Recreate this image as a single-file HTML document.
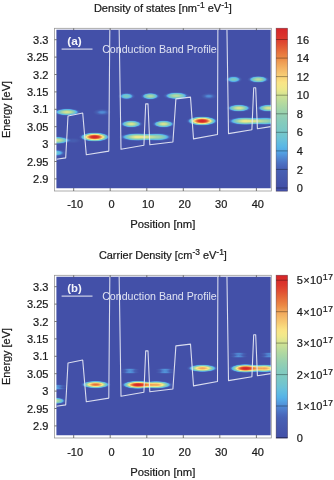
<!DOCTYPE html>
<html><head><meta charset="utf-8"><title>Density of states and carrier density</title>
<style>html,body{margin:0;padding:0;background:#fff;}svg{display:block;}</style></head>
<body>
<svg width="334" height="480" viewBox="0 0 334 480">
<rect width="334" height="480" fill="#ffffff"/>
<defs>
<radialGradient id="bp"><stop offset="0.000" stop-color="#fff" stop-opacity="1.000"/><stop offset="0.050" stop-color="#fff" stop-opacity="0.992"/><stop offset="0.100" stop-color="#fff" stop-opacity="0.983"/><stop offset="0.150" stop-color="#fff" stop-opacity="0.975"/><stop offset="0.200" stop-color="#fff" stop-opacity="0.948"/><stop offset="0.250" stop-color="#fff" stop-opacity="0.921"/><stop offset="0.300" stop-color="#fff" stop-opacity="0.891"/><stop offset="0.350" stop-color="#fff" stop-opacity="0.845"/><stop offset="0.400" stop-color="#fff" stop-opacity="0.798"/><stop offset="0.450" stop-color="#fff" stop-opacity="0.743"/><stop offset="0.500" stop-color="#fff" stop-opacity="0.680"/><stop offset="0.550" stop-color="#fff" stop-opacity="0.615"/><stop offset="0.600" stop-color="#fff" stop-opacity="0.537"/><stop offset="0.650" stop-color="#fff" stop-opacity="0.460"/><stop offset="0.700" stop-color="#fff" stop-opacity="0.380"/><stop offset="0.750" stop-color="#fff" stop-opacity="0.300"/><stop offset="0.800" stop-color="#fff" stop-opacity="0.231"/><stop offset="0.850" stop-color="#fff" stop-opacity="0.164"/><stop offset="0.900" stop-color="#fff" stop-opacity="0.100"/><stop offset="0.950" stop-color="#fff" stop-opacity="0.050"/><stop offset="1.000" stop-color="#fff" stop-opacity="0.000"/></radialGradient>
<filter id="cm" filterUnits="userSpaceOnUse" x="0" y="0" width="334" height="480" color-interpolation-filters="sRGB"><feComponentTransfer><feFuncR type="table" tableValues="0.263 0.267 0.267 0.267 0.271 0.275 0.275 0.275 0.278 0.278 0.278 0.282 0.282 0.286 0.290 0.294 0.298 0.306 0.310 0.314 0.322 0.325 0.329 0.333 0.333 0.337 0.353 0.365 0.380 0.396 0.408 0.424 0.435 0.447 0.459 0.467 0.475 0.486 0.494 0.502 0.510 0.518 0.529 0.545 0.557 0.573 0.584 0.600 0.620 0.635 0.655 0.671 0.690 0.710 0.729 0.753 0.773 0.792 0.816 0.847 0.878 0.914 0.929 0.945 0.957 0.973 0.980 0.976 0.976 0.973 0.973 0.969 0.965 0.961 0.957 0.953 0.949 0.945 0.941 0.937 0.933 0.925 0.922 0.914 0.910 0.906 0.898 0.894 0.890 0.886 0.878 0.875 0.871 0.867 0.863 0.859 0.855 0.851 0.847 0.843 0.839"/><feFuncG type="table" tableValues="0.314 0.318 0.325 0.329 0.333 0.341 0.345 0.353 0.357 0.365 0.369 0.376 0.380 0.392 0.412 0.431 0.459 0.482 0.510 0.537 0.565 0.596 0.627 0.655 0.678 0.706 0.718 0.725 0.737 0.745 0.753 0.761 0.769 0.773 0.776 0.780 0.784 0.784 0.788 0.792 0.792 0.796 0.800 0.804 0.808 0.812 0.816 0.820 0.824 0.831 0.835 0.843 0.847 0.855 0.859 0.867 0.871 0.878 0.886 0.894 0.902 0.906 0.910 0.906 0.906 0.902 0.894 0.875 0.855 0.835 0.812 0.792 0.769 0.749 0.725 0.702 0.678 0.659 0.635 0.612 0.588 0.549 0.522 0.498 0.471 0.443 0.420 0.392 0.365 0.337 0.310 0.282 0.255 0.227 0.216 0.204 0.192 0.176 0.165 0.153 0.141"/><feFuncB type="table" tableValues="0.659 0.663 0.663 0.667 0.671 0.671 0.675 0.682 0.686 0.694 0.698 0.706 0.710 0.722 0.741 0.757 0.773 0.792 0.808 0.827 0.847 0.867 0.886 0.894 0.902 0.910 0.898 0.890 0.878 0.867 0.851 0.839 0.824 0.812 0.800 0.788 0.776 0.769 0.761 0.753 0.745 0.741 0.729 0.722 0.714 0.702 0.694 0.682 0.675 0.663 0.655 0.643 0.635 0.627 0.616 0.604 0.596 0.588 0.576 0.569 0.561 0.553 0.545 0.541 0.537 0.533 0.525 0.510 0.494 0.478 0.463 0.451 0.439 0.424 0.412 0.392 0.376 0.361 0.341 0.322 0.306 0.275 0.267 0.255 0.247 0.235 0.227 0.216 0.208 0.204 0.196 0.188 0.184 0.176 0.173 0.173 0.169 0.165 0.161 0.161 0.157"/></feComponentTransfer></filter>
<linearGradient id="cba" x1="0" y1="0" x2="0" y2="1"><stop offset="0.000" stop-color="#d62428"/><stop offset="0.021" stop-color="#d82b2a"/><stop offset="0.042" stop-color="#da312b"/><stop offset="0.062" stop-color="#dc382d"/><stop offset="0.083" stop-color="#df4530"/><stop offset="0.104" stop-color="#e15333"/><stop offset="0.125" stop-color="#e46237"/><stop offset="0.146" stop-color="#e7713c"/><stop offset="0.167" stop-color="#e97f41"/><stop offset="0.188" stop-color="#ec8d47"/><stop offset="0.208" stop-color="#ef9d54"/><stop offset="0.229" stop-color="#f1aa5d"/><stop offset="0.250" stop-color="#f4b667"/><stop offset="0.271" stop-color="#f5c26e"/><stop offset="0.292" stop-color="#f7ce76"/><stop offset="0.312" stop-color="#f9d97d"/><stop offset="0.333" stop-color="#fae486"/><stop offset="0.354" stop-color="#f4e789"/><stop offset="0.375" stop-color="#ede88b"/><stop offset="0.396" stop-color="#dde590"/><stop offset="0.417" stop-color="#cce194"/><stop offset="0.438" stop-color="#c1dd9a"/><stop offset="0.458" stop-color="#b6da9f"/><stop offset="0.479" stop-color="#acd7a4"/><stop offset="0.500" stop-color="#a2d4a9"/><stop offset="0.521" stop-color="#99d1af"/><stop offset="0.542" stop-color="#91ceb4"/><stop offset="0.562" stop-color="#8accb9"/><stop offset="0.583" stop-color="#83cbbd"/><stop offset="0.604" stop-color="#7fc9c1"/><stop offset="0.625" stop-color="#7ac8c5"/><stop offset="0.646" stop-color="#75c6cb"/><stop offset="0.667" stop-color="#6fc4d2"/><stop offset="0.688" stop-color="#68c0da"/><stop offset="0.708" stop-color="#60bbe1"/><stop offset="0.729" stop-color="#58b6e6"/><stop offset="0.750" stop-color="#55aae5"/><stop offset="0.771" stop-color="#539bdf"/><stop offset="0.792" stop-color="#518bd4"/><stop offset="0.812" stop-color="#4e7cca"/><stop offset="0.833" stop-color="#4b6ec1"/><stop offset="0.854" stop-color="#4864b8"/><stop offset="0.875" stop-color="#475fb3"/><stop offset="0.896" stop-color="#475cb0"/><stop offset="0.917" stop-color="#4659ad"/><stop offset="0.938" stop-color="#4556ab"/><stop offset="0.958" stop-color="#4453a9"/><stop offset="0.979" stop-color="#4350a8"/><stop offset="1.000" stop-color="#4350a8"/></linearGradient>
<linearGradient id="cbb" x1="0" y1="0" x2="0" y2="1"><stop offset="0.000" stop-color="#d62428"/><stop offset="0.021" stop-color="#d82b29"/><stop offset="0.042" stop-color="#da312b"/><stop offset="0.062" stop-color="#dc382c"/><stop offset="0.083" stop-color="#df442f"/><stop offset="0.104" stop-color="#e15233"/><stop offset="0.125" stop-color="#e36136"/><stop offset="0.146" stop-color="#e66f3b"/><stop offset="0.167" stop-color="#e97d40"/><stop offset="0.188" stop-color="#ec8b46"/><stop offset="0.208" stop-color="#ef9b52"/><stop offset="0.229" stop-color="#f1a85c"/><stop offset="0.250" stop-color="#f3b465"/><stop offset="0.271" stop-color="#f5c06d"/><stop offset="0.292" stop-color="#f7cb74"/><stop offset="0.312" stop-color="#f8d77b"/><stop offset="0.333" stop-color="#fae284"/><stop offset="0.354" stop-color="#f6e788"/><stop offset="0.375" stop-color="#efe88b"/><stop offset="0.396" stop-color="#e2e68e"/><stop offset="0.417" stop-color="#d1e293"/><stop offset="0.438" stop-color="#c5df98"/><stop offset="0.458" stop-color="#badb9d"/><stop offset="0.479" stop-color="#afd8a2"/><stop offset="0.500" stop-color="#a6d5a7"/><stop offset="0.521" stop-color="#9cd2ad"/><stop offset="0.542" stop-color="#94cfb2"/><stop offset="0.562" stop-color="#8dcdb7"/><stop offset="0.583" stop-color="#85cbbc"/><stop offset="0.604" stop-color="#81cac0"/><stop offset="0.625" stop-color="#7cc9c3"/><stop offset="0.646" stop-color="#77c7c8"/><stop offset="0.667" stop-color="#72c5ce"/><stop offset="0.688" stop-color="#6cc2d6"/><stop offset="0.708" stop-color="#64bede"/><stop offset="0.729" stop-color="#5db9e3"/><stop offset="0.750" stop-color="#56b2e7"/><stop offset="0.771" stop-color="#54a4e3"/><stop offset="0.792" stop-color="#5294da"/><stop offset="0.812" stop-color="#4f84d0"/><stop offset="0.833" stop-color="#4d77c7"/><stop offset="0.854" stop-color="#4a6abe"/><stop offset="0.875" stop-color="#4861b5"/><stop offset="0.896" stop-color="#475eb2"/><stop offset="0.917" stop-color="#475baf"/><stop offset="0.938" stop-color="#4658ac"/><stop offset="0.958" stop-color="#4555ab"/><stop offset="0.979" stop-color="#4452a9"/><stop offset="1.000" stop-color="#4350a8"/></linearGradient>
</defs>
<g transform="translate(0,0)">
<rect x="54.6" y="28.3" width="216.7" height="162.7" fill="#fff" stroke="#929292" stroke-width="0.75"/>
<clipPath id="clipa"><rect x="56.4" y="29.7" width="214.3" height="158.5"/></clipPath>
<g clip-path="url(#clipa)">
<g filter="url(#cm)">
<rect x="54.4" y="27.7" width="218.3" height="162.5" fill="#000"/>
<ellipse cx="67.0" cy="112.1" rx="14.2" ry="4.0" fill="url(#bp)" opacity="0.60"/>
<ellipse cx="102.1" cy="112.3" rx="9.5" ry="3.6" fill="url(#bp)" opacity="0.20"/>
<ellipse cx="56.5" cy="140.3" rx="15.0" ry="4.3" fill="url(#bp)" opacity="0.58"/>
<ellipse cx="73.0" cy="140.6" rx="9.0" ry="3.0" fill="url(#bp)" opacity="0.10"/>
<ellipse cx="56.0" cy="152.9" rx="10.5" ry="4.0" fill="url(#bp)" opacity="0.33"/>
<ellipse cx="94.7" cy="137.0" rx="16.0" ry="5.0" fill="url(#bp)" opacity="1.00"/>
<ellipse cx="126.5" cy="96.2" rx="9.0" ry="3.9" fill="url(#bp)" opacity="0.38"/>
<ellipse cx="150.3" cy="96.2" rx="10.0" ry="3.9" fill="url(#bp)" opacity="0.52"/>
<ellipse cx="131.3" cy="124.0" rx="11.8" ry="4.1" fill="url(#bp)" opacity="0.60"/>
<ellipse cx="163.6" cy="124.0" rx="11.8" ry="4.1" fill="url(#bp)" opacity="0.60"/>
<ellipse cx="137.6" cy="137.0" rx="19.0" ry="4.4" fill="url(#bp)" opacity="0.63"/>
<ellipse cx="156.5" cy="137.0" rx="17.0" ry="4.4" fill="url(#bp)" opacity="0.50"/>
<ellipse cx="176.3" cy="95.8" rx="13.5" ry="4.1" fill="url(#bp)" opacity="0.54"/>
<ellipse cx="208.8" cy="96.2" rx="8.5" ry="3.4" fill="url(#bp)" opacity="0.20"/>
<ellipse cx="202.1" cy="121.0" rx="16.0" ry="5.0" fill="url(#bp)" opacity="1.00"/>
<ellipse cx="233.6" cy="79.4" rx="9.0" ry="3.9" fill="url(#bp)" opacity="0.38"/>
<ellipse cx="258.3" cy="79.4" rx="11.2" ry="3.9" fill="url(#bp)" opacity="0.54"/>
<ellipse cx="238.9" cy="108.1" rx="13.0" ry="4.1" fill="url(#bp)" opacity="0.60"/>
<ellipse cx="268.6" cy="108.1" rx="12.4" ry="4.1" fill="url(#bp)" opacity="0.60"/>
<ellipse cx="245.5" cy="121.1" rx="19.0" ry="4.4" fill="url(#bp)" opacity="0.63"/>
<ellipse cx="264.5" cy="121.1" rx="17.0" ry="4.4" fill="url(#bp)" opacity="0.50"/>
</g>
<path d="M56.4 159.2 L65.7 157.9 L68.0 116.0 L82.7 113.0 L86.3 154.7 L108.8 151.1 L109.9 20.0 M119.0 20.0 L121.0 149.2 L143.9 145.3 L145.7 103.9 L148.0 103.9 L149.8 144.8 L172.9 142.0 L175.9 98.9 L190.5 97.1 L193.5 138.9 L217.5 134.5 L217.9 20.0 M226.8 20.0 L228.5 133.6 L251.9 129.7 L253.7 87.8 L255.7 87.8 L257.4 128.8 L270.7 126.6 " fill="none" stroke="#e6e8f4" stroke-width="1.1" stroke-linejoin="round" opacity="0.92"/>
<line x1="61.6" y1="49.1" x2="92.5" y2="49.1" stroke="#c9cde6" stroke-width="1.35"/>
<text x="74.5" y="44.8" text-anchor="middle" font-family="Liberation Sans, sans-serif" font-size="11" font-weight="bold" fill="#f4f5fb" textLength="14.5" lengthAdjust="spacingAndGlyphs">(a)</text>
<text x="102.2" y="53.2" font-family="Liberation Sans, sans-serif" font-size="11.5" fill="#e0e3f2" textLength="114.6" lengthAdjust="spacingAndGlyphs">Conduction Band Profile</text>
</g>
<path d="M73.7 191.0V188.0M73.7 28.3V30.3M110.2 191.0V188.0M110.2 28.3V30.3M146.8 191.0V188.0M146.8 28.3V30.3M183.3 191.0V188.0M183.3 28.3V30.3M219.8 191.0V188.0M219.8 28.3V30.3M256.4 191.0V188.0M256.4 28.3V30.3M54.6 39.7H56.8M54.6 57.1H56.8M54.6 74.5H56.8M54.6 91.9H56.8M54.6 109.3H56.8M54.6 126.7H56.8M54.6 144.1H56.8M54.6 161.5H56.8M54.6 178.9H56.8" stroke="#555" stroke-width="0.8" fill="none"/>
<text x="75.1" y="208.3" text-anchor="middle" font-family="Liberation Sans, sans-serif" font-size="11" fill="#1a1a1a" stroke="#1a1a1a" stroke-width="0.22">-10</text>
<text x="111.6" y="208.3" text-anchor="middle" font-family="Liberation Sans, sans-serif" font-size="11" fill="#1a1a1a" stroke="#1a1a1a" stroke-width="0.22">0</text>
<text x="148.2" y="208.3" text-anchor="middle" font-family="Liberation Sans, sans-serif" font-size="11" fill="#1a1a1a" stroke="#1a1a1a" stroke-width="0.22">10</text>
<text x="184.7" y="208.3" text-anchor="middle" font-family="Liberation Sans, sans-serif" font-size="11" fill="#1a1a1a" stroke="#1a1a1a" stroke-width="0.22">20</text>
<text x="221.2" y="208.3" text-anchor="middle" font-family="Liberation Sans, sans-serif" font-size="11" fill="#1a1a1a" stroke="#1a1a1a" stroke-width="0.22">30</text>
<text x="257.8" y="208.3" text-anchor="middle" font-family="Liberation Sans, sans-serif" font-size="11" fill="#1a1a1a" stroke="#1a1a1a" stroke-width="0.22">40</text>
<text x="48.4" y="43.7" text-anchor="end" font-family="Liberation Sans, sans-serif" font-size="11" fill="#1a1a1a" stroke="#1a1a1a" stroke-width="0.22">3.3</text>
<text x="48.4" y="61.1" text-anchor="end" font-family="Liberation Sans, sans-serif" font-size="11" fill="#1a1a1a" stroke="#1a1a1a" stroke-width="0.22">3.25</text>
<text x="48.4" y="78.5" text-anchor="end" font-family="Liberation Sans, sans-serif" font-size="11" fill="#1a1a1a" stroke="#1a1a1a" stroke-width="0.22">3.2</text>
<text x="48.4" y="95.9" text-anchor="end" font-family="Liberation Sans, sans-serif" font-size="11" fill="#1a1a1a" stroke="#1a1a1a" stroke-width="0.22">3.15</text>
<text x="48.4" y="113.3" text-anchor="end" font-family="Liberation Sans, sans-serif" font-size="11" fill="#1a1a1a" stroke="#1a1a1a" stroke-width="0.22">3.1</text>
<text x="48.4" y="130.7" text-anchor="end" font-family="Liberation Sans, sans-serif" font-size="11" fill="#1a1a1a" stroke="#1a1a1a" stroke-width="0.22">3.05</text>
<text x="48.4" y="148.1" text-anchor="end" font-family="Liberation Sans, sans-serif" font-size="11" fill="#1a1a1a" stroke="#1a1a1a" stroke-width="0.22">3</text>
<text x="48.4" y="165.5" text-anchor="end" font-family="Liberation Sans, sans-serif" font-size="11" fill="#1a1a1a" stroke="#1a1a1a" stroke-width="0.22">2.95</text>
<text x="48.4" y="182.9" text-anchor="end" font-family="Liberation Sans, sans-serif" font-size="11" fill="#1a1a1a" stroke="#1a1a1a" stroke-width="0.22">2.9</text>
<text x="162.8" y="228.4" text-anchor="middle" font-family="Liberation Sans, sans-serif" font-size="11" fill="#1a1a1a" stroke="#1a1a1a" stroke-width="0.22" textLength="65" lengthAdjust="spacingAndGlyphs">Position [nm]</text>
<text transform="translate(10,109.5) rotate(-90)" text-anchor="middle" font-family="Liberation Sans, sans-serif" font-size="11" fill="#1a1a1a" stroke="#1a1a1a" stroke-width="0.22" textLength="57" lengthAdjust="spacingAndGlyphs">Energy [eV]</text>
<text x="162.9" y="12" text-anchor="middle" font-family="Liberation Sans, sans-serif" font-size="11" fill="#1a1a1a" stroke="#1a1a1a" stroke-width="0.22" textLength="138" lengthAdjust="spacingAndGlyphs">Density of states [nm<tspan dy="-4" font-size="8.5">-1</tspan><tspan dy="4"> eV</tspan><tspan dy="-4" font-size="8.5">-1</tspan><tspan dy="4">]</tspan></text>
<rect x="276.1" y="28.2" width="11.5" height="163" fill="url(#cba)" stroke="#3a2a3a" stroke-opacity="0.6" stroke-width="0.6"/>
<text x="296.8" y="192.1" font-family="Liberation Sans, sans-serif" font-size="11" fill="#1a1a1a" stroke="#1a1a1a" stroke-width="0.22">0</text>
<text x="296.8" y="173.5" font-family="Liberation Sans, sans-serif" font-size="11" fill="#1a1a1a" stroke="#1a1a1a" stroke-width="0.22">2</text>
<text x="296.8" y="155.0" font-family="Liberation Sans, sans-serif" font-size="11" fill="#1a1a1a" stroke="#1a1a1a" stroke-width="0.22">4</text>
<text x="296.8" y="136.4" font-family="Liberation Sans, sans-serif" font-size="11" fill="#1a1a1a" stroke="#1a1a1a" stroke-width="0.22">6</text>
<text x="296.8" y="117.9" font-family="Liberation Sans, sans-serif" font-size="11" fill="#1a1a1a" stroke="#1a1a1a" stroke-width="0.22">8</text>
<text x="296.8" y="99.3" font-family="Liberation Sans, sans-serif" font-size="11" fill="#1a1a1a" stroke="#1a1a1a" stroke-width="0.22">10</text>
<text x="296.8" y="80.7" font-family="Liberation Sans, sans-serif" font-size="11" fill="#1a1a1a" stroke="#1a1a1a" stroke-width="0.22">12</text>
<text x="296.8" y="62.2" font-family="Liberation Sans, sans-serif" font-size="11" fill="#1a1a1a" stroke="#1a1a1a" stroke-width="0.22">14</text>
<text x="296.8" y="43.6" font-family="Liberation Sans, sans-serif" font-size="11" fill="#1a1a1a" stroke="#1a1a1a" stroke-width="0.22">16</text>
<path d="M276.1 188.0H287.6M276.1 169.4H287.6M276.1 150.9H287.6M276.1 132.3H287.6M276.1 113.8H287.6M276.1 95.2H287.6M276.1 76.6H287.6M276.1 58.1H287.6M276.1 39.5H287.6" stroke="#000" stroke-opacity="0.58" stroke-width="0.6" fill="none"/>
</g>
<g transform="translate(0,247)">
<rect x="54.6" y="28.3" width="216.7" height="162.7" fill="#fff" stroke="#929292" stroke-width="0.75"/>
<clipPath id="clipb"><rect x="56.4" y="29.7" width="214.3" height="158.5"/></clipPath>
<g clip-path="url(#clipb)">
<g filter="url(#cm)">
<rect x="54.4" y="27.7" width="218.3" height="162.5" fill="#000"/>
<ellipse cx="56.0" cy="139.0" rx="12.0" ry="2.0" fill="url(#bp)" opacity="0.22"/>
<ellipse cx="56.0" cy="141.4" rx="12.0" ry="2.0" fill="url(#bp)" opacity="0.22"/>
<ellipse cx="56.0" cy="153.8" rx="10.5" ry="3.8" fill="url(#bp)" opacity="0.54"/>
<ellipse cx="95.7" cy="137.6" rx="15.5" ry="4.2" fill="url(#bp)" opacity="0.86"/>
<ellipse cx="130.0" cy="122.8" rx="10.0" ry="2.0" fill="url(#bp)" opacity="0.21"/>
<ellipse cx="130.0" cy="125.2" rx="10.0" ry="2.0" fill="url(#bp)" opacity="0.21"/>
<ellipse cx="165.0" cy="122.8" rx="10.0" ry="2.0" fill="url(#bp)" opacity="0.21"/>
<ellipse cx="165.0" cy="125.2" rx="10.0" ry="2.0" fill="url(#bp)" opacity="0.21"/>
<ellipse cx="138.0" cy="137.8" rx="17.0" ry="4.5" fill="url(#bp)" opacity="1.00"/>
<ellipse cx="156.0" cy="137.8" rx="17.5" ry="4.3" fill="url(#bp)" opacity="0.78"/>
<ellipse cx="202.5" cy="121.3" rx="16.0" ry="4.2" fill="url(#bp)" opacity="0.78"/>
<ellipse cx="238.7" cy="106.9" rx="9.5" ry="2.0" fill="url(#bp)" opacity="0.20"/>
<ellipse cx="238.7" cy="109.4" rx="9.5" ry="2.0" fill="url(#bp)" opacity="0.20"/>
<ellipse cx="269.0" cy="106.9" rx="9.5" ry="2.0" fill="url(#bp)" opacity="0.20"/>
<ellipse cx="269.0" cy="109.4" rx="9.5" ry="2.0" fill="url(#bp)" opacity="0.20"/>
<ellipse cx="245.6" cy="121.4" rx="17.0" ry="4.8" fill="url(#bp)" opacity="1.00"/>
<ellipse cx="264.0" cy="121.4" rx="17.5" ry="4.4" fill="url(#bp)" opacity="0.78"/>
</g>
<path d="M56.4 159.2 L65.7 157.9 L68.0 116.0 L82.7 113.0 L86.3 154.7 L108.8 151.1 L109.9 20.0 M119.0 20.0 L121.0 149.2 L143.9 145.3 L145.7 103.9 L148.0 103.9 L149.8 144.8 L172.9 142.0 L175.9 98.9 L190.5 97.1 L193.5 138.9 L217.5 134.5 L217.9 20.0 M226.8 20.0 L228.5 133.6 L251.9 129.7 L253.7 87.8 L255.7 87.8 L257.4 128.8 L270.7 126.6 " fill="none" stroke="#e6e8f4" stroke-width="1.1" stroke-linejoin="round" opacity="0.92"/>
<line x1="61.6" y1="49.1" x2="92.5" y2="49.1" stroke="#c9cde6" stroke-width="1.35"/>
<text x="74.5" y="44.8" text-anchor="middle" font-family="Liberation Sans, sans-serif" font-size="11" font-weight="bold" fill="#f4f5fb" textLength="14.5" lengthAdjust="spacingAndGlyphs">(b)</text>
<text x="102.2" y="53.2" font-family="Liberation Sans, sans-serif" font-size="11.5" fill="#e0e3f2" textLength="114.6" lengthAdjust="spacingAndGlyphs">Conduction Band Profile</text>
</g>
<path d="M73.7 191.0V188.0M73.7 28.3V30.3M110.2 191.0V188.0M110.2 28.3V30.3M146.8 191.0V188.0M146.8 28.3V30.3M183.3 191.0V188.0M183.3 28.3V30.3M219.8 191.0V188.0M219.8 28.3V30.3M256.4 191.0V188.0M256.4 28.3V30.3M54.6 39.7H56.8M54.6 57.1H56.8M54.6 74.5H56.8M54.6 91.9H56.8M54.6 109.3H56.8M54.6 126.7H56.8M54.6 144.1H56.8M54.6 161.5H56.8M54.6 178.9H56.8" stroke="#555" stroke-width="0.8" fill="none"/>
<text x="75.1" y="209.2" text-anchor="middle" font-family="Liberation Sans, sans-serif" font-size="11" fill="#1a1a1a" stroke="#1a1a1a" stroke-width="0.22">-10</text>
<text x="111.6" y="209.2" text-anchor="middle" font-family="Liberation Sans, sans-serif" font-size="11" fill="#1a1a1a" stroke="#1a1a1a" stroke-width="0.22">0</text>
<text x="148.2" y="209.2" text-anchor="middle" font-family="Liberation Sans, sans-serif" font-size="11" fill="#1a1a1a" stroke="#1a1a1a" stroke-width="0.22">10</text>
<text x="184.7" y="209.2" text-anchor="middle" font-family="Liberation Sans, sans-serif" font-size="11" fill="#1a1a1a" stroke="#1a1a1a" stroke-width="0.22">20</text>
<text x="221.2" y="209.2" text-anchor="middle" font-family="Liberation Sans, sans-serif" font-size="11" fill="#1a1a1a" stroke="#1a1a1a" stroke-width="0.22">30</text>
<text x="257.8" y="209.2" text-anchor="middle" font-family="Liberation Sans, sans-serif" font-size="11" fill="#1a1a1a" stroke="#1a1a1a" stroke-width="0.22">40</text>
<text x="48.4" y="43.7" text-anchor="end" font-family="Liberation Sans, sans-serif" font-size="11" fill="#1a1a1a" stroke="#1a1a1a" stroke-width="0.22">3.3</text>
<text x="48.4" y="61.1" text-anchor="end" font-family="Liberation Sans, sans-serif" font-size="11" fill="#1a1a1a" stroke="#1a1a1a" stroke-width="0.22">3.25</text>
<text x="48.4" y="78.5" text-anchor="end" font-family="Liberation Sans, sans-serif" font-size="11" fill="#1a1a1a" stroke="#1a1a1a" stroke-width="0.22">3.2</text>
<text x="48.4" y="95.9" text-anchor="end" font-family="Liberation Sans, sans-serif" font-size="11" fill="#1a1a1a" stroke="#1a1a1a" stroke-width="0.22">3.15</text>
<text x="48.4" y="113.3" text-anchor="end" font-family="Liberation Sans, sans-serif" font-size="11" fill="#1a1a1a" stroke="#1a1a1a" stroke-width="0.22">3.1</text>
<text x="48.4" y="130.7" text-anchor="end" font-family="Liberation Sans, sans-serif" font-size="11" fill="#1a1a1a" stroke="#1a1a1a" stroke-width="0.22">3.05</text>
<text x="48.4" y="148.1" text-anchor="end" font-family="Liberation Sans, sans-serif" font-size="11" fill="#1a1a1a" stroke="#1a1a1a" stroke-width="0.22">3</text>
<text x="48.4" y="165.5" text-anchor="end" font-family="Liberation Sans, sans-serif" font-size="11" fill="#1a1a1a" stroke="#1a1a1a" stroke-width="0.22">2.95</text>
<text x="48.4" y="182.9" text-anchor="end" font-family="Liberation Sans, sans-serif" font-size="11" fill="#1a1a1a" stroke="#1a1a1a" stroke-width="0.22">2.9</text>
<text x="162.8" y="228.9" text-anchor="middle" font-family="Liberation Sans, sans-serif" font-size="11" fill="#1a1a1a" stroke="#1a1a1a" stroke-width="0.22" textLength="65" lengthAdjust="spacingAndGlyphs">Position [nm]</text>
<text transform="translate(10,109.5) rotate(-90)" text-anchor="middle" font-family="Liberation Sans, sans-serif" font-size="11" fill="#1a1a1a" stroke="#1a1a1a" stroke-width="0.22" textLength="57" lengthAdjust="spacingAndGlyphs">Energy [eV]</text>
<text x="162.9" y="12" text-anchor="middle" font-family="Liberation Sans, sans-serif" font-size="11" fill="#1a1a1a" stroke="#1a1a1a" stroke-width="0.22" textLength="128" lengthAdjust="spacingAndGlyphs">Carrier Density [cm<tspan dy="-4" font-size="8.5">-3</tspan><tspan dy="4"> eV</tspan><tspan dy="-4" font-size="8.5">-1</tspan><tspan dy="4">]</tspan></text>
<rect x="276.1" y="28.2" width="11.5" height="163" fill="url(#cbb)" stroke="#3a2a3a" stroke-opacity="0.6" stroke-width="0.6"/>
<text x="296.8" y="194.6" font-family="Liberation Sans, sans-serif" font-size="11" fill="#1a1a1a" stroke="#1a1a1a" stroke-width="0.22">0</text>
<text x="296.8" y="163.1" font-family="Liberation Sans, sans-serif" font-size="11" fill="#1a1a1a" stroke="#1a1a1a" stroke-width="0.22" textLength="36.2" lengthAdjust="spacing">1×10<tspan dy="-4.1" font-size="9">17</tspan></text>
<text x="296.8" y="131.7" font-family="Liberation Sans, sans-serif" font-size="11" fill="#1a1a1a" stroke="#1a1a1a" stroke-width="0.22" textLength="36.2" lengthAdjust="spacing">2×10<tspan dy="-4.1" font-size="9">17</tspan></text>
<text x="296.8" y="100.2" font-family="Liberation Sans, sans-serif" font-size="11" fill="#1a1a1a" stroke="#1a1a1a" stroke-width="0.22" textLength="36.2" lengthAdjust="spacing">3×10<tspan dy="-4.1" font-size="9">17</tspan></text>
<text x="296.8" y="68.8" font-family="Liberation Sans, sans-serif" font-size="11" fill="#1a1a1a" stroke="#1a1a1a" stroke-width="0.22" textLength="36.2" lengthAdjust="spacing">4×10<tspan dy="-4.1" font-size="9">17</tspan></text>
<text x="296.8" y="37.3" font-family="Liberation Sans, sans-serif" font-size="11" fill="#1a1a1a" stroke="#1a1a1a" stroke-width="0.22" textLength="36.2" lengthAdjust="spacing">5×10<tspan dy="-4.1" font-size="9">17</tspan></text>
<path d="M276.1 190.5H287.6M276.1 159.0H287.6M276.1 127.6H287.6M276.1 96.1H287.6M276.1 64.7H287.6M276.1 33.2H287.6" stroke="#000" stroke-opacity="0.58" stroke-width="0.6" fill="none"/>
</g>
</svg>
</body></html>
